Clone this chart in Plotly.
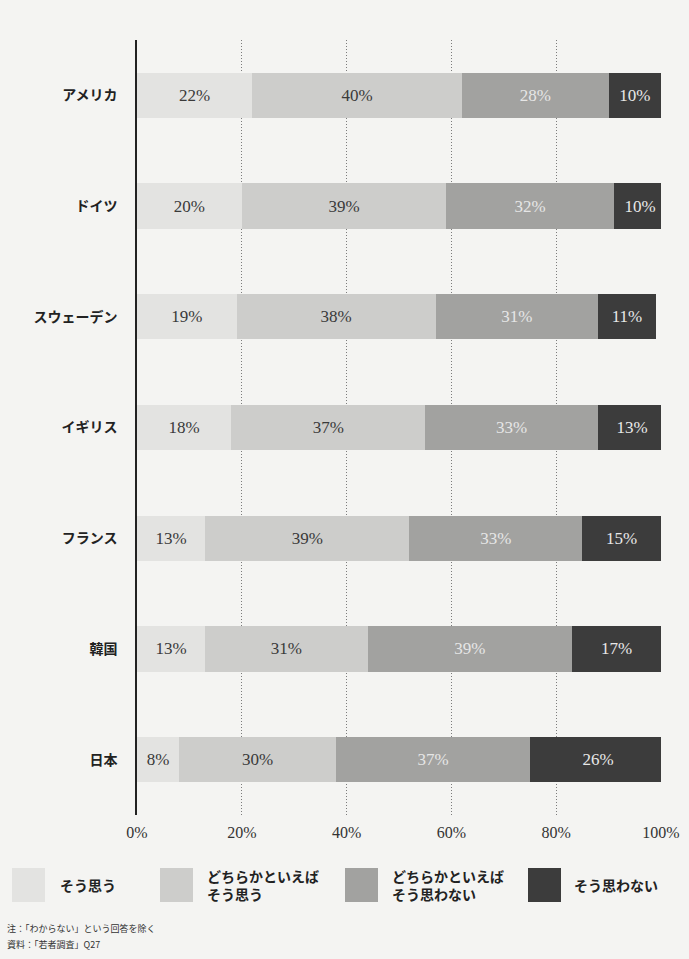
import plotly.graph_objects as go

# Survey: share of responses by country (percent)
countries = ["アメリカ", "ドイツ", "スウェーデン", "イギリス", "フランス", "韓国", "日本"]
agree = [22, 20, 19, 18, 13, 13, 8]
somewhat_agree = [40, 39, 38, 37, 39, 31, 30]
somewhat_disagree = [28, 32, 31, 33, 33, 39, 37]
disagree = [10, 10, 11, 13, 15, 17, 26]

series_names = ["そう思う", "どちらかといえば<br>そう思う", "どちらかといえば<br>そう思わない", "そう思わない"]
series_values = [agree, somewhat_agree, somewhat_disagree, disagree]
tick_values = [0, 20, 40, 60, 80, 100]
tick_labels = ["0%", "20%", "40%", "60%", "80%", "100%"]

bar_colors = ["#e3e3e1", "#cdcdcb", "#a2a2a0", "#3c3c3c"]
text_colors = ["#3a3a3a", "#3a3a3a", "#e6e6e6", "#e8e8e8"]

NUM_FONT = "Liberation Serif, DejaVu Serif, serif"
JP_FONT = "Noto Sans CJK JP, sans-serif"
BG = "#f4f4f2"

L, R, T, B = 137, 28, 40, 144
PW = 689 - L - R
PH = 959 - T - B

fig = go.Figure()
for name, vals, col, tcol in zip(series_names, series_values, bar_colors, text_colors):
    fig.add_trace(go.Bar(
        y=countries, x=vals, orientation="h", name=name,
        marker=dict(color=col, line=dict(width=0)),
        width=0.41,
        text=[f"{v}%" for v in vals], texttemplate="%{text}",
        textposition="inside", insidetextanchor="middle", textangle=0,
        constraintext="none",
        textfont=dict(family=NUM_FONT, size=17, color=tcol),
        showlegend=False,
    ))

fig.update_layout(
    barmode="stack",
    width=689, height=959,
    margin=dict(l=L, r=R, t=T, b=B),
    paper_bgcolor=BG, plot_bgcolor=BG,
    xaxis=dict(
        range=[0, 100], tickvals=tick_values, ticktext=tick_labels,
        automargin=False,
        showgrid=True, gridcolor="#7c7c7c", griddash="1px,2px", gridwidth=1,
        zeroline=False, showline=False, ticks="",
        tickfont=dict(family=NUM_FONT, size=16, color="#333333"),
        ticklabelstandoff=6,
    ),
    yaxis=dict(
        autorange=False, range=[6.5, -0.5],
        automargin=False,
        showgrid=False, zeroline=False,
        showline=True, linecolor="#222222", linewidth=1.5,
        ticks="", ticklabelstandoff=15,
        tickfont=dict(family=JP_FONT, size=14, color="#222222", weight="bold"),
    ),
)

# Legend drawn as swatches plus labels below the axis
legend_items = [
    (12, 45, 58),
    (160, 193, 205),
    (345, 378, 390),
    (528, 561, 572),
]
for (x0, x1, tx), col, name in zip(legend_items, bar_colors, series_names):
    fig.add_shape(type="rect", xref="paper", yref="paper",
                  x0=(x0 - L) / PW, x1=(x1 - L) / PW,
                  y0=-(902 - (T + PH)) / PH, y1=-(868 - (T + PH)) / PH,
                  fillcolor=col, line=dict(width=0), layer="above")
    fig.add_annotation(xref="paper", yref="paper",
                       x=(tx - L) / PW, y=-(885 - (T + PH)) / PH,
                       xanchor="left", yanchor="middle", align="left",
                       text=name, showarrow=False,
                       font=dict(family=JP_FONT, size=14, color="#222222", weight="bold"))

# Source notes
notes = ["注：「わからない」という回答を除く", "資料：「若者調査」Q27"]
for i, note in enumerate(notes):
    fig.add_annotation(xref="paper", yref="paper",
                       x=(5 - L) / PW, y=-(928 + i * 16 - (T + PH)) / PH,
                       xanchor="left", yanchor="middle",
                       text=note, showarrow=False,
                       font=dict(family=JP_FONT, size=9, color="#333333"))

fig.write_html("out.html")
